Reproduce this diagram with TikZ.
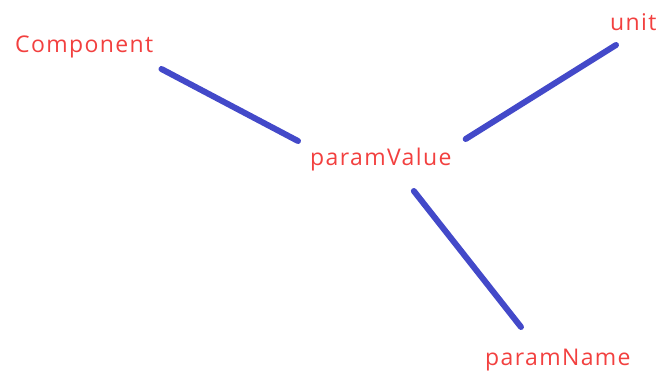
\documentclass[tikz,border=0pt]{standalone}
\usepackage{fontspec}
\setmainfont{Open Sans}[LetterSpace=6]
\usetikzlibrary{positioning, calc}
\definecolor{labRed}{HTML}{F2403F}
\definecolor{linkBlue}{HTML}{4349C9}
\tikzset{
  term/.style={inner sep=0pt, text=labRed, font=\fontsize{23}{26}\selectfont},
  link/.style={line width=6pt, draw=linkBlue, line cap=round},
}
\begin{document}
\begin{tikzpicture}[x=1pt, y=-1pt]
  \useasboundingbox (0,0) rectangle (662,370);

  % ---- Nodes -------------------------------------------------------------
  \node[term, anchor=base west] (comp) at (15,52)   {Component};
  \node[term, anchor=base west] (val)  at (310,165) {paramValue};
  \node[term, anchor=base west] (unit) at (610,30)  {unit};
  \node[term, anchor=base west] (name) at (485,365) {paramName};

  % ---- Edges -------------------------------------------------------------
  \draw[link] ([shift={(8,17)}]comp.base east) -- ([shift={(-12,-24)}]val.base west);
  \draw[link] ([shift={(14,-26)}]val.base east) -- ([shift={(6,15)}]unit.base west);
  \draw[link] ([shift={(33,26)}]val.base) -- ([shift={(36,-38)}]name.base west);

\end{tikzpicture}
\end{document}
